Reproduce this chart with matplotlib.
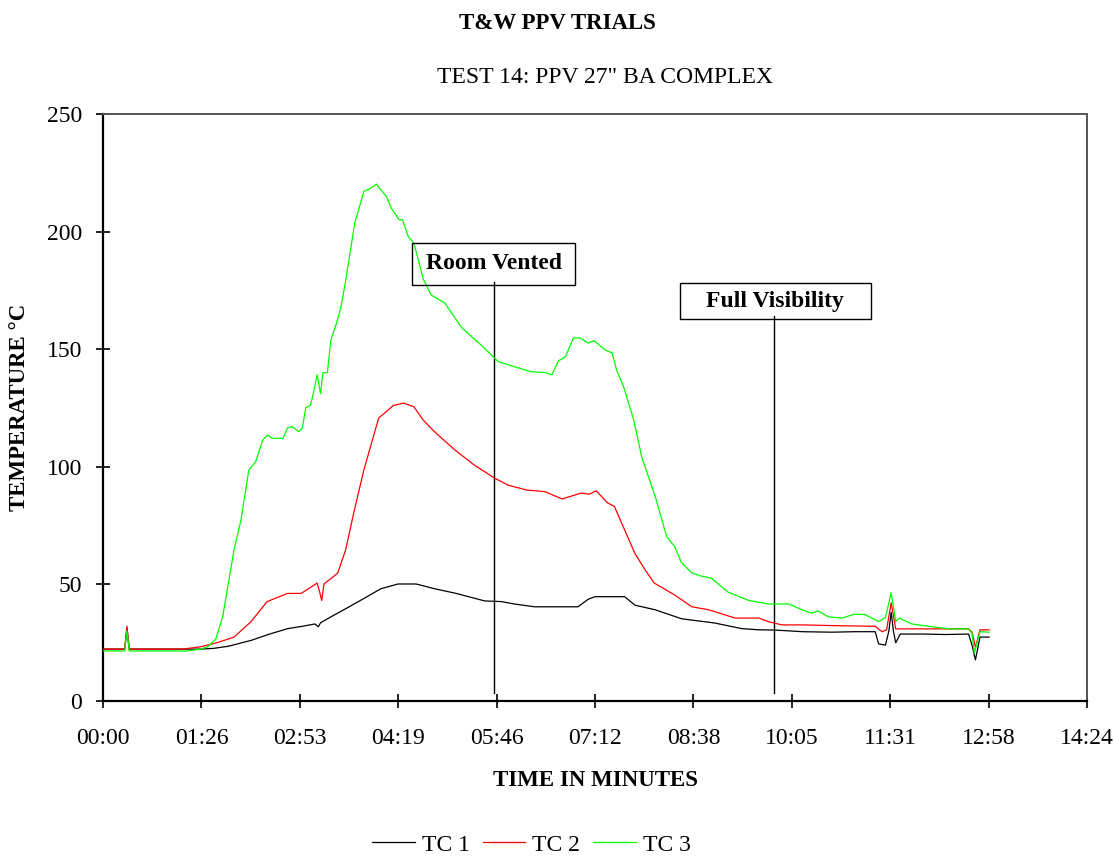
import matplotlib
matplotlib.use("Agg")
import matplotlib.pyplot as plt
from matplotlib.patches import Rectangle

plt.rcParams['font.family'] = ['Liberation Serif', 'DejaVu Serif']

# ---- data (time in seconds, temperature in °C) ----
tc1_t = [0, 19, 21, 23, 60, 86, 97, 110, 130, 145,
         162, 175, 186, 189, 191, 200, 215, 226, 244, 259,
         275, 291, 310, 335, 350, 361, 379, 417, 426, 432,
         458, 467, 485, 508, 537, 561, 576, 590, 614, 640,
         660, 678, 681, 687, 690, 692, 694, 696, 700, 720,
         740, 760, 763, 766, 770, 778]
tc1_v = [22.3, 22.3, 31, 22.3, 22.3, 22.3, 22.6, 23.5, 26, 28.5,
         31, 32, 33, 31.8, 33.5, 36, 40, 43, 48, 50,
         50, 48, 46, 42.8, 42.5, 41.5, 40.3, 40.3, 43.5, 44.6,
         44.6, 41, 39, 35.2, 33.4, 31, 30.5, 30.4, 29.7, 29.5,
         29.7, 29.7, 24.5, 24, 30, 38, 30, 25, 28.7, 28.7,
         28.5, 28.7, 24, 17.7, 27.4, 27.4]

tc2_t = [0, 19, 21, 23, 70, 86, 100, 115, 130, 144,
         162, 174, 188, 190, 192, 194, 206, 213, 220, 229,
         242, 255, 264, 273, 281, 291, 309, 326, 344, 356,
         372, 388, 403, 420, 427, 433, 443, 449, 458, 467,
         476, 484, 502, 517, 532, 555, 576, 584, 596, 614,
         640, 678, 684, 688, 692, 696, 720, 760, 763, 766,
         770, 778]
tc2_v = [22.3, 22.3, 32, 22.3, 22.3, 23.3, 25, 27.4, 34, 42.5,
         46, 46, 50.4, 47, 43, 50, 54.6, 64.5, 80, 98.5,
         120.6, 126, 127, 125.4, 119.8, 114.8, 107, 100.6, 95, 92,
         90, 89.3, 86.2, 88.7, 88.2, 89.7, 84.5, 83, 73, 63,
         56, 50.4, 45.3, 40.3, 39, 35.5, 35.5, 34, 32.6, 32.6,
         32.3, 32, 29.7, 30.5, 42, 30.9, 30.9, 30.9, 29.5, 23,
         30.5, 30.5]

tc3_t = [0, 19, 21, 23, 74, 86, 92, 99, 105, 111,
         115, 121, 128, 134, 140, 144, 149, 158, 162, 166,
         172, 175, 178, 182, 184, 188, 191, 193, 197, 200,
         205, 209, 213, 221, 229, 235, 240, 244, 249, 253,
         260, 263, 268, 273, 281, 288, 300, 315, 332, 347,
         361, 376, 388, 394, 400, 406, 413, 419, 426, 431,
         441, 447, 451, 457, 466, 473, 485, 495, 502, 508,
         517, 525, 534, 549, 567, 584, 602, 614, 622, 628,
         637, 649, 660, 669, 681, 687, 692, 696, 699, 710,
         725, 743, 760, 763, 765, 770, 778]
tc3_v = [21.5, 21.5, 30, 21.5, 21.5, 22.3, 23.3, 26.6, 36, 53,
         64.5, 77, 98.5, 102, 111, 113.4, 112, 112, 116.4, 117,
         114.8, 116.4, 125, 126, 129.7, 139, 131, 139.8, 140, 153.8,
         161, 168, 179, 203.6, 217, 218.4, 220.2, 217.7, 214.8, 210,
         205, 205, 197.8, 195, 180, 173, 169.6, 159, 151.7, 144.6,
         142.5, 140.3, 140, 139, 145, 146.7, 154.7, 154.7, 152.5, 153.5,
         149.6, 148.3, 141, 134, 119.8, 104, 87, 70, 65.9, 59,
         54.7, 53.4, 52.5, 46.5, 43, 41.5, 41.5, 39, 37.6, 38.5,
         36, 35.5, 37.2, 37, 34, 35.7, 46.3, 34, 35.5, 33,
         32, 30.9, 30.9, 29, 20.6, 29.7, 29.5]

series_names = ["TC 1", "TC 2", "TC 3"]
series_colors = ["#000000", "#ff0000", "#00ff00"]

xtick_pos = [0, 86.4, 172.8, 259.2, 345.6, 432, 518.4, 604.8, 691.2, 777.6, 864]
xtick_labels = ["00:00", "01:26", "02:53", "04:19", "05:46", "07:12",
                "08:38", "10:05", "11:31", "12:58", "14:24"]
ytick_pos = [0, 50, 100, 150, 200, 250]

# annotations
ann_labels = ["Room Vented", "Full Visibility"]
ann_x = [343.6, 589.0]
ann_line_top = [178.5, 164.0]
ann_line_bottom = [3.6, 3.6]
# box geometry (centre x, centre y, width, height) in data units
box_cx = [343.1, 590.3]
box_cy = [186.2, 170.4]
box_w = [143.4, 168.0]
box_h = [17.9, 15.3]

# ---- figure ----
fig = plt.figure(figsize=(11.14, 8.56), dpi=100)
ax = fig.add_axes([0.0925, 0.1805, 0.8833, 0.6863])

for t, v, name, c in zip([tc1_t, tc2_t, tc3_t], [tc1_v, tc2_v, tc3_v],
                         series_names, series_colors):
    ax.plot(t, v, color=c, lw=0.9, label=name, zorder=3)

for lab, x, lt, lb, cx, cy, w, h in zip(ann_labels, ann_x, ann_line_top, ann_line_bottom,
                                         box_cx, box_cy, box_w, box_h):
    ax.plot([x, x], [lb, lt], color='black', lw=1.0, zorder=2)
    ax.add_patch(Rectangle((cx - w / 2, cy - h / 2), w, h, fill=False,
                           ec='black', lw=1.0, zorder=4))
    ax.text(cx, cy, lab, ha='center', va='center', fontsize=17, fontweight='bold', zorder=4)

ax.set_xlim(0, 864)
ax.set_ylim(0, 250)
ax.set_xticks(xtick_pos)
ax.set_xticklabels(xtick_labels)
ax.set_yticks(ytick_pos)
ax.tick_params(axis='both', direction='inout', length=10, width=1.2, labelsize=17)
ax.tick_params(axis='x', pad=14)
ax.tick_params(axis='y', pad=10)

for s in ['left', 'bottom']:
    ax.spines[s].set_color('black')
    ax.spines[s].set_linewidth(1.6)
for s in ['top', 'right']:
    ax.spines[s].set_color('#555555')
    ax.spines[s].set_linewidth(1.4)

ax.set_xlabel("TIME IN MINUTES", fontsize=16.5, fontweight='bold', labelpad=15)
ax.set_ylabel("TEMPERATURE °C", fontsize=16.5, fontweight='bold', labelpad=12)

fig.text(0.5, 0.972, "T&W PPV TRIALS", ha='center', va='center', fontsize=16.5, fontweight='bold')
fig.text(0.543, 0.910, "TEST 14: PPV 27\" BA COMPLEX", ha='center', va='center', fontsize=17)

fig.legend(loc='center', bbox_to_anchor=(0.477, 0.013), ncol=3, frameon=False,
           fontsize=17, handlelength=1.8, handletextpad=0.3, columnspacing=0.55)

fig.savefig("out.png", dpi=100)
